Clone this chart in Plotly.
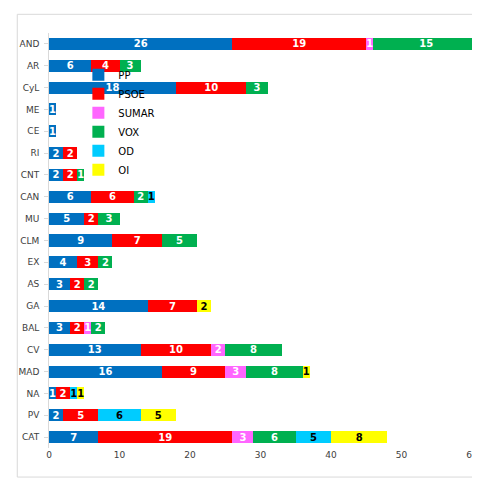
import plotly.graph_objects as go

regions = ["AND", "AR", "CyL", "ME", "CE", "RI", "CNT", "CAN", "MU", "CLM", "EX", "AS",
           "GA", "BAL", "CV", "MAD", "NA", "PV", "CAT"]
pp = [26, 6, 18, 1, 1, 2, 2, 6, 5, 9, 4, 3, 14, 3, 13, 16, 1, 2, 7]
psoe = [19, 4, 10, 0, 0, 2, 2, 6, 2, 7, 3, 2, 7, 2, 10, 9, 2, 5, 19]
sumar = [1, 0, 0, 0, 0, 0, 0, 0, 0, 0, 0, 0, 0, 1, 2, 3, 0, 0, 3]
vox = [15, 3, 3, 0, 0, 0, 1, 2, 3, 5, 2, 2, 0, 2, 8, 8, 0, 0, 6]
od = [0, 0, 0, 0, 0, 0, 0, 1, 0, 0, 0, 0, 0, 0, 0, 0, 1, 6, 5]
oi = [0, 0, 0, 0, 0, 0, 0, 0, 0, 0, 0, 0, 2, 0, 0, 1, 1, 5, 8]

series = [("PP", pp, "#0070c0", "white"), ("PSOE", psoe, "#ff0000", "white"),
          ("SUMAR", sumar, "#ff66ff", "white"), ("VOX", vox, "#00b050", "white"),
          ("OD", od, "#00ccff", "black"), ("OI", oi, "#ffff00", "black")]

fig = go.Figure()
for name, vals, col, tcol in series:
    fig.add_trace(go.Bar(
        y=regions, x=vals, name=name, orientation="h", marker_color=col,
        marker_line_width=0,
        text=[str(v) if v else "" for v in vals], textposition="inside",
        insidetextanchor="middle", textangle=0,
        textfont=dict(color=tcol, size=10, family="DejaVu Sans", weight="bold"),
    ))

fig.update_layout(
    barmode="stack", bargap=0.45, width=480, height=480,
    margin=dict(l=37, r=10, t=25, b=40),
    paper_bgcolor="white", plot_bgcolor="white",
    font=dict(family="DejaVu Sans", size=9, color="#404040"),
    uniformtext=dict(minsize=8, mode="show"),
    legend=dict(orientation="h", traceorder="normal", x=0.33, y=0.785,
                xanchor="left", yanchor="middle",
                font=dict(size=10, color="#000"), entrywidth=55,
                bgcolor="rgba(0,0,0,0)"),
    shapes=[dict(type="rect", xref="paper", yref="paper", x0=-0.075, x1=1.03,
                 y0=-0.07, y1=1.045, line=dict(color="#d9d9d9", width=1))],
)
fig.update_yaxes(autorange="reversed", categoryorder="array", categoryarray=regions,
                 showline=True, linecolor="#d9d9d9", ticks="outside", ticklen=4,
                 tickcolor="#d9d9d9", ticksuffix=" ")
fig.update_xaxes(range=[0, 60], dtick=10, showgrid=False, zeroline=False)
fig.write_html("out.html")
